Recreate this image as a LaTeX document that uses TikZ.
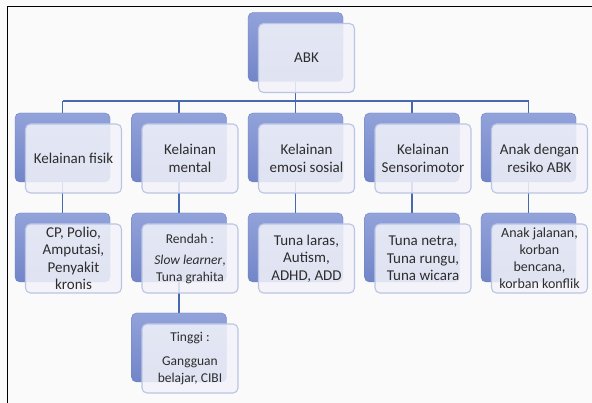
\documentclass[tikz,border=0pt]{standalone}
\usepackage{fontspec}
\setmainfont{Carlito}
\usetikzlibrary{positioning,calc,backgrounds}
\definecolor{abkbg}{RGB}{250,250,250}
\definecolor{abktop}{RGB}{146,162,218}
\definecolor{abkbot}{RGB}{114,133,200}
\definecolor{abkedge}{RGB}{108,128,194}
\definecolor{abkrim}{RGB}{186,197,229}
\definecolor{abkfront}{RGB}{242,243,249}
\definecolor{abkline}{RGB}{72,104,176}
\definecolor{abktext}{RGB}{45,45,45}
\tikzset{
  backbox/.style={draw=abkedge, rounded corners=5pt, top color=abktop, bottom color=abkbot,
    minimum width=95pt, minimum height=69pt, inner sep=0pt},
  frontbox/.style={draw=abkrim, line width=1.1pt, fill=abkfront, fill opacity=0.86, text opacity=1,
    rounded corners=5pt, minimum width=96pt, minimum height=69pt, align=center, text=abktext,
    font=\fontsize{15}{17.5}\selectfont, inner sep=1pt},
  small/.style={font=\fontsize{13.5}{16.5}\selectfont},
  link/.style={draw=abkline, line width=1.4pt}
}
\begin{document}
\begin{tikzpicture}[x=1pt,y=-1pt]
\useasboundingbox (0,0) rectangle (592,403);
% top
\node[backbox] (abk-b) at (295.5,47) {};
\node[frontbox] (abk) at ([shift={(11,11)}]abk-b.center) {ABK};
% first row
\node[backbox] (fisik-b) at (62.5,147.5) {};
\node[frontbox] (fisik) at ([shift={(11,11)}]fisik-b.center) {Kelainan fisik};
\node[backbox] (mental-b) at (179,147.5) {};
\node[frontbox] (mental) at ([shift={(11,11)}]mental-b.center) {Kelainan\\mental};
\node[backbox] (emosi-b) at (295.5,147.5) {};
\node[frontbox] (emosi) at ([shift={(11,11)}]emosi-b.center) {Kelainan\\emosi sosial};
\node[backbox] (sensori-b) at (412,147.5) {};
\node[frontbox] (sensori) at ([shift={(11,11)}]sensori-b.center) {Kelainan\\Sensorimotor};
\node[backbox] (resiko-b) at (528.5,147.5) {};
\node[frontbox] (resiko) at ([shift={(11,11)}]resiko-b.center) {Anak dengan\\resiko ABK};
% second row
\node[backbox] (cp-b) at (62.5,247.5) {};
\node[frontbox] (cp) at ([shift={(11,11)}]cp-b.center) {CP, Polio,\\Amputasi,\\Penyakit\\kronis};
\node[backbox] (rendah-b) at (179,247.5) {};
\node[frontbox, small] (rendah) at ([shift={(11,11)}]rendah-b.center) {Rendah :\\[5pt]\textit{Slow learner},\\Tuna grahita};
\node[backbox] (laras-b) at (295.5,247.5) {};
\node[frontbox] (laras) at ([shift={(11,11)}]laras-b.center) {Tuna laras,\\Autism,\\ADHD, ADD};
\node[backbox] (netra-b) at (412,247.5) {};
\node[frontbox] (netra) at ([shift={(11,11)}]netra-b.center) {Tuna netra,\\Tuna rungu,\\Tuna wicara};
\node[backbox] (jalanan-b) at (528.5,247.5) {};
\node[frontbox, font=\fontsize{14}{17}\selectfont] (jalanan) at ([shift={(11,11)}]jalanan-b.center) {Anak jalanan,\\korban\\bencana,\\korban konflik};
% third row
\node[backbox] (tinggi-b) at (179,347.5) {};
\node[frontbox, small] (tinggi) at ([shift={(11,11)}]tinggi-b.center) {Tinggi :\\[8pt]Gangguan\\belajar, CIBI};
\begin{scope}[on background layer]
\fill[abkbg] (0,0) rectangle (592,403);
\draw[black, line width=1.5pt] (7.5,403) -- (7.5,6.5) -- (592,6.5);
\coordinate (bus) at (0,101);
\draw[link] (abk-b.south) -- (abk-b.south |- bus);
\draw[link] (fisik-b.north |- bus) -- (resiko-b.north |- bus);
\foreach \n in {fisik,mental,emosi,sensori,resiko}
  \draw[link] (\n-b.north |- bus) -- (\n-b.north);
\foreach \a/\b in {fisik/cp,mental/rendah,emosi/laras,sensori/netra,resiko/jalanan,rendah/tinggi}
  \draw[link] (\a-b.south) -- (\b-b.north);
\end{scope}
\end{tikzpicture}
\end{document}
